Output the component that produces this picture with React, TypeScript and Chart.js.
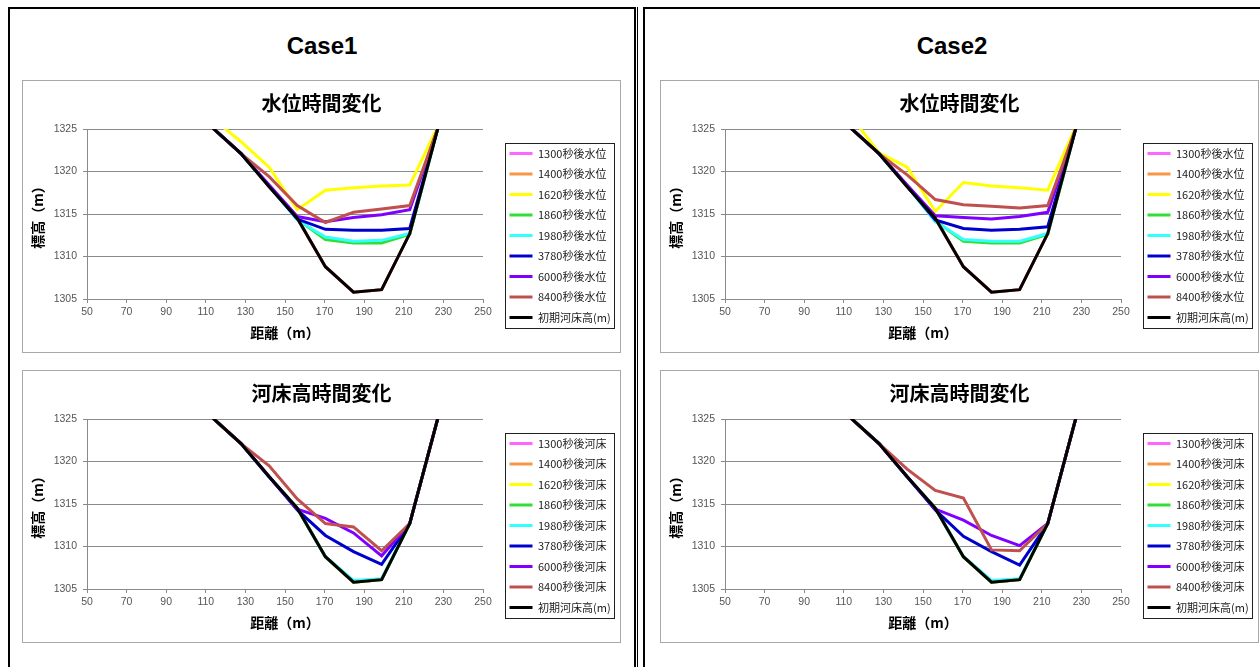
import React, { useEffect, useRef } from "react";
import { Chart, registerables } from "chart.js";
Chart.register(...registerables);

// ---------- data ----------
const X_STATIONS = [113.6, 127.8, 142.0, 156.2, 170.4, 184.6, 198.8, 213.0, 227.2];
const X_TICKS = [50, 70, 90, 110, 130, 150, 170, 190, 210, 230, 250];
const Y_TICKS = [1305, 1310, 1315, 1320, 1325];
const TIMES = ["1300", "1400", "1620", "1860", "1980", "3780", "6000", "8400"];
const BED_LABEL = "初期河床高(m)";
const SERIES_COLORS = ["#FF66FF", "#F79646", "#FFFF00", "#33DD33", "#33FFFF", "#0000CC", "#7F00FF", "#C0504D", "#000000"];

const INITIAL_BED = [1325.1, 1322.1, 1318.2, 1314.5, 1308.8, 1305.8, 1306.1, 1312.7, 1325.1];

// Case1 water level
const C1_WL_1300 = [1325.1, 1322.1, 1318.2, 1314.5, 1308.8, 1305.8, 1306.1, 1312.7, 1325.1];
const C1_WL_1400 = [1325.1, 1322.1, 1318.2, 1314.5, 1308.8, 1305.8, 1306.1, 1312.7, 1325.1];
const C1_WL_1620 = [1326.2, 1323.5, 1320.5, 1315.5, 1317.8, 1318.1, 1318.3, 1318.4, 1325.3];
const C1_WL_1860 = [1325.1, 1322.1, 1318.3, 1314.4, 1312.0, 1311.6, 1311.6, 1312.6, 1325.1];
const C1_WL_1980 = [1325.1, 1322.1, 1318.3, 1314.3, 1312.3, 1311.8, 1311.9, 1312.7, 1325.1];
const C1_WL_3780 = [1325.1, 1322.1, 1318.3, 1314.4, 1313.2, 1313.1, 1313.1, 1313.3, 1325.1];
const C1_WL_6000 = [1325.1, 1322.1, 1318.4, 1314.7, 1314.1, 1314.6, 1314.9, 1315.5, 1325.1];
const C1_WL_8400 = [1325.1, 1322.1, 1319.4, 1316.0, 1314.0, 1315.2, 1315.6, 1316.0, 1325.1];

// Case1 bed elevation
const C1_BED_1300 = [1325.1, 1322.1, 1318.2, 1314.5, 1308.8, 1305.8, 1306.1, 1312.7, 1325.1];
const C1_BED_1400 = [1325.1, 1322.1, 1318.2, 1314.5, 1308.8, 1305.8, 1306.1, 1312.7, 1325.1];
const C1_BED_1620 = [1325.1, 1322.1, 1318.2, 1314.5, 1308.8, 1305.8, 1306.1, 1312.7, 1325.1];
const C1_BED_1860 = [1325.1, 1322.1, 1318.2, 1314.5, 1308.8, 1305.8, 1306.1, 1312.7, 1325.1];
const C1_BED_1980 = [1325.1, 1322.1, 1318.2, 1314.5, 1308.8, 1306.0, 1306.2, 1312.7, 1325.1];
const C1_BED_3780 = [1325.1, 1322.1, 1318.2, 1314.3, 1311.3, 1309.4, 1307.9, 1312.7, 1325.1];
const C1_BED_6000 = [1325.1, 1322.1, 1318.2, 1314.4, 1313.3, 1311.6, 1308.9, 1312.7, 1325.1];
const C1_BED_8400 = [1325.1, 1322.1, 1319.5, 1315.6, 1312.7, 1312.3, 1309.5, 1312.7, 1325.1];

// Case2 water level
const C2_WL_1300 = [1325.1, 1322.1, 1318.2, 1314.5, 1308.8, 1305.8, 1306.1, 1312.7, 1325.1];
const C2_WL_1400 = [1325.1, 1322.1, 1318.2, 1314.5, 1308.8, 1305.8, 1306.1, 1312.7, 1325.1];
const C2_WL_1620 = [1326.5, 1322.2, 1320.5, 1315.3, 1318.7, 1318.3, 1318.1, 1317.8, 1325.3];
const C2_WL_1860 = [1325.1, 1322.1, 1318.3, 1314.2, 1311.8, 1311.6, 1311.6, 1312.6, 1325.1];
const C2_WL_1980 = [1325.1, 1322.1, 1318.3, 1314.1, 1312.0, 1311.8, 1311.8, 1312.7, 1325.1];
const C2_WL_3780 = [1325.1, 1322.1, 1318.3, 1314.3, 1313.3, 1313.1, 1313.2, 1313.5, 1325.1];
const C2_WL_6000 = [1325.1, 1322.1, 1318.4, 1314.8, 1314.6, 1314.4, 1314.7, 1315.2, 1325.1];
const C2_WL_8400 = [1325.1, 1322.1, 1319.6, 1316.7, 1316.1, 1315.9, 1315.7, 1316.0, 1325.1];

// Case2 bed elevation
const C2_BED_1300 = [1325.1, 1322.1, 1318.2, 1314.5, 1308.8, 1305.8, 1306.1, 1312.7, 1325.1];
const C2_BED_1400 = [1325.1, 1322.1, 1318.2, 1314.5, 1308.8, 1305.8, 1306.1, 1312.7, 1325.1];
const C2_BED_1620 = [1325.1, 1322.1, 1318.2, 1314.5, 1308.8, 1305.8, 1306.1, 1312.7, 1325.1];
const C2_BED_1860 = [1325.1, 1322.1, 1318.2, 1314.5, 1308.8, 1305.8, 1306.1, 1312.7, 1325.1];
const C2_BED_1980 = [1325.1, 1322.1, 1318.2, 1314.5, 1308.8, 1306.0, 1306.2, 1312.7, 1325.1];
const C2_BED_3780 = [1325.1, 1322.1, 1318.2, 1314.3, 1311.2, 1309.4, 1307.8, 1312.7, 1325.1];
const C2_BED_6000 = [1325.1, 1322.1, 1318.2, 1314.4, 1313.1, 1311.3, 1310.1, 1312.7, 1325.1];
const C2_BED_8400 = [1325.1, 1322.1, 1319.1, 1316.6, 1315.7, 1309.6, 1309.5, 1312.7, 1325.1];

const CASE1_WATER = [C1_WL_1300, C1_WL_1400, C1_WL_1620, C1_WL_1860, C1_WL_1980, C1_WL_3780, C1_WL_6000, C1_WL_8400, INITIAL_BED];
const CASE1_BED = [C1_BED_1300, C1_BED_1400, C1_BED_1620, C1_BED_1860, C1_BED_1980, C1_BED_3780, C1_BED_6000, C1_BED_8400, INITIAL_BED];
const CASE2_WATER = [C2_WL_1300, C2_WL_1400, C2_WL_1620, C2_WL_1860, C2_WL_1980, C2_WL_3780, C2_WL_6000, C2_WL_8400, INITIAL_BED];
const CASE2_BED = [C2_BED_1300, C2_BED_1400, C2_BED_1620, C2_BED_1860, C2_BED_1980, C2_BED_3780, C2_BED_6000, C2_BED_8400, INITIAL_BED];

const WATER_LABELS = TIMES.map((t) => t + "秒後水位").concat([BED_LABEL]);
const BED_LABELS = TIMES.map((t) => t + "秒後河床").concat([BED_LABEL]);

// ---------- styling ----------
const JP = "'Noto Sans CJK JP', 'Noto Sans', sans-serif";
const NUM = "'Liberation Sans', Arial, sans-serif";
const GRID = "#8a8a8a";
const CANVAS_W = 597;
const CANVAS_H = 271;

const legendFix = {
  id: "legendFix",
  beforeLayout(chart: any) {
    const lg = chart.legend;
    if (lg && !lg.__patched) {
      const orig = lg.fit;
      lg.fit = function () {
        orig.call(this);
        this.width = 137;
      };
      lg.__patched = true;
    }
  },
  afterLayout(chart: any) {
    const lg = chart.legend;
    if (!lg) return;
    const dx = 17;
    const dy = 19;
    lg.left += dx;
    lg.right += dx;
    lg.top += dy;
    lg.bottom += dy;
  },
  afterDraw(chart: any) {
    const lg = chart.legend;
    if (!lg || !lg.legendHitBoxes || !lg.legendHitBoxes.length) return;
    const hb = lg.legendHitBoxes;
    const l = Math.min(...hb.map((h: any) => h.left)) - 5;
    const r = Math.max(...hb.map((h: any) => h.left + h.width)) + 3;
    const t = Math.min(...hb.map((h: any) => h.top)) - 5.5;
    const b = Math.max(...hb.map((h: any) => h.top + h.height)) + 4;
    const ctx = chart.ctx;
    ctx.save();
    ctx.strokeStyle = "#202020";
    ctx.lineWidth = 1;
    ctx.strokeRect(Math.round(l) + 0.5, Math.round(t) + 0.5, Math.round(r - l), Math.round(b - t));
    ctx.restore();
  },
};

function SubChart(props: { left: number; top: number; title: string; labels: string[]; series: number[][] }) {
  const ref = useRef<HTMLCanvasElement | null>(null);
  useEffect(() => {
    if (!ref.current) return;
    const n = props.series.length;
    const datasets = props.series.map((vals, i) => ({
      label: props.labels[i],
      data: vals.map((v, j) => ({ x: X_STATIONS[j], y: v })),
      borderColor: SERIES_COLORS[i],
      backgroundColor: SERIES_COLORS[i],
      borderWidth: 3,
      pointRadius: 0,
      tension: 0,
      fill: false,
      order: n - i,
    }));
    const chart = new Chart(ref.current, {
      type: "line",
      data: { datasets },
      plugins: [legendFix],
      options: {
        animation: false,
        responsive: false,
        maintainAspectRatio: false,
        layout: { padding: 0 },
        events: [],
        plugins: {
          title: {
            display: true,
            text: props.title,
            font: { family: JP, size: 20, weight: "bold" },
            color: "#000",
            padding: { top: 10, bottom: 14 },
          },
          legend: {
            position: "right",
            labels: {
              usePointStyle: true,
              pointStyle: "line",
              pointStyleWidth: 23,
              font: { family: JP, size: 11 },
              color: "#1a1a1a",
              padding: 9.5,
              sort: (a: any, b: any) => a.datasetIndex - b.datasetIndex,
            },
          },
          tooltip: { enabled: false },
        },
        scales: {
          x: {
            type: "linear",
            min: 50,
            max: 250,
            afterBuildTicks: (s: any) => {
              s.ticks = X_TICKS.map((v) => ({ value: v }));
            },
            afterFit: (s: any) => {
              s.height = 53;
            },
            ticks: {
              font: { family: NUM, size: 10.5 },
              color: "#555",
              padding: 3,
              maxRotation: 0,
              autoSkip: false,
              callback: (v: any) => String(v),
            },
            grid: { drawOnChartArea: false, drawTicks: true, tickLength: 4, color: GRID },
            border: { color: GRID, width: 1 },
            title: {
              display: true,
              text: "距離（m）",
              font: { family: JP, size: 14, weight: "bold" },
              color: "#000",
              padding: { top: 0, bottom: 10.6 },
            },
          },
          y: {
            type: "linear",
            min: 1305,
            max: 1325,
            afterBuildTicks: (s: any) => {
              s.ticks = Y_TICKS.map((v) => ({ value: v }));
            },
            afterFit: (s: any) => {
              s.width = 64;
            },
            ticks: {
              font: { family: NUM, size: 10.5 },
              color: "#555",
              padding: 6,
              callback: (v: any) => String(v),
            },
            grid: { color: GRID, tickLength: 4, lineWidth: 1 },
            border: { color: GRID, width: 1 },
            title: {
              display: true,
              text: "標高（m）",
              font: { family: JP, size: 14, weight: "bold" },
              color: "#000",
              padding: { top: 6.6, bottom: 0 },
            },
          },
        },
      } as any,
    });
    return () => chart.destroy();
  }, []);
  return (
    <div
      style={{
        position: "absolute",
        left: props.left,
        top: props.top,
        width: CANVAS_W + 2,
        height: CANVAS_H + 2,
        border: "1px solid #a8a8a8",
        boxSizing: "border-box",
        background: "#fff",
      }}
    >
      <canvas ref={ref} width={CANVAS_W} height={CANVAS_H} style={{ display: "block", width: CANVAS_W, height: CANVAS_H }} />
    </div>
  );
}

export default function App() {
  const caseTitle: React.CSSProperties = {
    position: "absolute",
    top: 32,
    left: 0,
    right: 0,
    textAlign: "center",
    fontFamily: "'Liberation Sans', Arial, sans-serif",
    fontWeight: "bold",
    fontSize: 24,
    lineHeight: "28px",
    color: "#000",
  };
  return (
    <div style={{ position: "fixed", left: 0, top: 0, width: 1260, height: 667, overflow: "hidden", background: "#fff" }}>
      <div style={{ position: "absolute", left: 8, top: 7, width: 628, height: 700, border: "2px solid #000", boxSizing: "border-box" }} />
      <div style={{ position: "absolute", left: 637, top: 7, width: 1, height: 700, background: "#000" }} />
      <div style={{ position: "absolute", left: 643, top: 7, width: 620, height: 700, border: "2px solid #000", boxSizing: "border-box" }} />
      <div style={{ position: "absolute", left: 8, top: 0, width: 628, height: 80 }}>
        <div style={caseTitle}>Case1</div>
      </div>
      <div style={{ position: "absolute", left: 643, top: 0, width: 618, height: 80 }}>
        <div style={caseTitle}>Case2</div>
      </div>
      <SubChart left={22} top={80} title="水位時間変化" labels={WATER_LABELS} series={CASE1_WATER} />
      <SubChart left={22} top={370} title="河床高時間変化" labels={BED_LABELS} series={CASE1_BED} />
      <SubChart left={660} top={80} title="水位時間変化" labels={WATER_LABELS} series={CASE2_WATER} />
      <SubChart left={660} top={370} title="河床高時間変化" labels={BED_LABELS} series={CASE2_BED} />
    </div>
  );
}
